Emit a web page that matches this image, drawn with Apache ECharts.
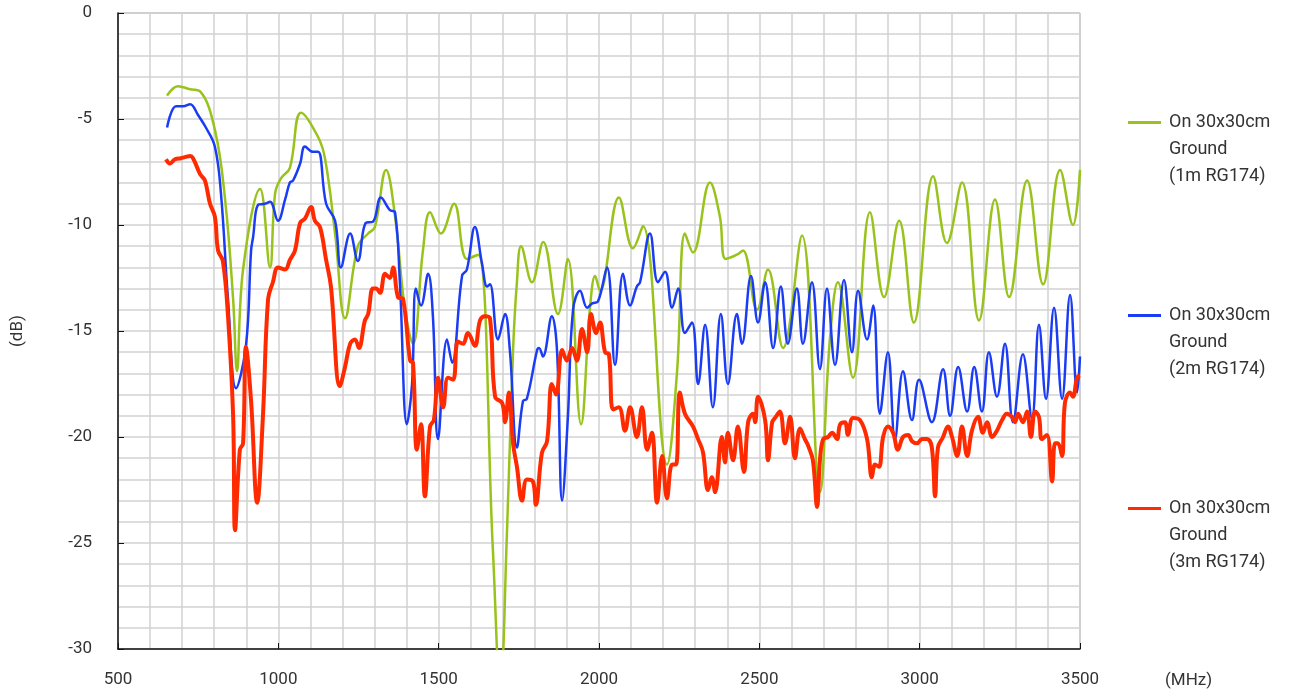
<!DOCTYPE html>
<html>
<head>
<meta charset="utf-8">
<script src="https://cdn.jsdelivr.net/npm/echarts@6/dist/echarts.min.js"></script>
<style>
  html, body { margin: 0; padding: 0; background: #fff; }
  #main { width: 1301px; height: 698px; }
</style>
</head>
<body>
<div id="main"></div>
<script>
// frequency (MHz), level (dB)
const green1m = [
  [653,-3.9],[687,-3.45],[725,-3.6],[756,-3.7],[802,-5.5],[834,-8.8],[859,-13.5],[871,-16.9],
  [890,-12.1],[943,-8.3],[974,-12.0],[990,-8.5],[1008,-7.8],[1036,-7.3],[1071,-4.7],[1124,-5.85],
  [1146,-6.9],[1177,-10.4],[1208,-14.4],[1248,-11.0],[1280,-10.4],[1301,-10.1],[1336,-7.4],[1364,-9.6],
  [1395,-14.0],[1420,-15.6],[1451,-11.2],[1473,-9.4],[1507,-10.4],[1548,-9.0],[1588,-11.6],[1623,-11.4],
  [1669,-25.3],[1692,-32],[1713,-24.5],[1732,-15.9],[1744,-12.7],[1757,-11.0],[1791,-12.7],[1826,-10.8],
  [1872,-14.2],[1903,-11.6],[1944,-19.4],[1972,-13.9],[1988,-12.4],[2003,-13.1],[2062,-8.7],[2106,-11.1],
  [2137,-10.05],[2212,-21.3],[2243,-17.0],[2268,-10.4],[2293,-11.3],[2346,-8.0],[2377,-9.6],[2395,-11.6],
  [2430,-11.4],[2449,-11.2],[2493,-14.0],[2527,-12.1],[2574,-15.8],[2633,-10.5],[2689,-22.6],[2720,-15.4],
  [2745,-12.7],[2792,-17.2],[2845,-9.4],[2889,-13.4],[2936,-9.8],[2982,-14.6],[3042,-7.7],[3085,-10.85],
  [3132,-8.0],[3185,-14.5],[3235,-8.8],[3279,-13.4],[3335,-7.9],[3385,-12.8],[3438,-7.4],[3478,-10.0],
  [3500,-7.4]
];

const blue2m = [
  [653,-5.4],[681,-4.4],[703,-4.4],[725,-4.3],[749,-4.8],[774,-5.4],[802,-6.3],[821,-8.5],
  [843,-13.5],[868,-17.7],[899,-15.7],[915,-11.2],[921,-10.6],[937,-9.05],[958,-9.0],[974,-8.9],
  [999,-9.8],[1021,-8.8],[1036,-8.0],[1046,-7.9],[1068,-7.1],[1083,-6.3],[1108,-6.55],[1124,-6.55],
  [1149,-9.0],[1177,-9.8],[1195,-12.0],[1224,-10.4],[1248,-11.7],[1273,-9.9],[1295,-9.85],[1320,-8.7],
  [1348,-9.3],[1364,-9.4],[1379,-12.7],[1401,-19.4],[1417,-17.5],[1429,-13.0],[1445,-13.8],[1467,-12.3],
  [1482,-14.3],[1498,-20.1],[1526,-15.4],[1542,-16.5],[1573,-12.4],[1588,-12.1],[1613,-10.1],[1635,-11.8],
  [1651,-12.9],[1660,-12.8],[1685,-15.4],[1707,-14.2],[1722,-15.9],[1744,-20.5],[1763,-18.3],[1775,-18.2],
  [1807,-15.9],[1813,-15.8],[1825,-16.2],[1853,-14.3],[1869,-15.9],[1885,-23.0],[1903,-19.05],[1919,-14.0],
  [1941,-13.1],[1963,-13.9],[1979,-13.7],[1997,-13.6],[2025,-12.0],[2050,-16.6],[2075,-12.3],[2097,-13.8],
  [2118,-12.9],[2128,-12.7],[2159,-10.4],[2184,-12.7],[2206,-12.2],[2228,-13.9],[2247,-13.0],[2268,-15.1],
  [2290,-14.6],[2309,-17.5],[2331,-14.7],[2355,-18.6],[2380,-14.2],[2402,-17.5],[2430,-14.2],[2446,-15.6],
  [2474,-12.4],[2496,-14.6],[2518,-12.7],[2543,-15.8],[2567,-12.9],[2589,-15.6],[2617,-13.0],[2636,-15.6],
  [2664,-12.7],[2689,-16.8],[2711,-13.0],[2736,-16.6],[2764,-12.6],[2789,-16.0],[2808,-13.1],[2836,-15.4],
  [2855,-13.8],[2876,-18.9],[2901,-16.0],[2923,-20.1],[2948,-16.9],[2976,-19.2],[2998,-17.3],[3038,-19.3],
  [3073,-16.8],[3095,-19.0],[3120,-16.7],[3148,-18.8],[3170,-16.7],[3194,-18.8],[3216,-16.0],[3241,-18.1],
  [3266,-15.6],[3291,-19.3],[3322,-16.1],[3350,-19.1],[3372,-14.7],[3394,-18.2],[3419,-13.9],[3444,-18.2],
  [3469,-13.3],[3491,-17.9],[3500,-16.2]
];

const red3m = [
  [650,-6.9],[662,-7.1],[678,-6.9],[696,-6.85],[709,-6.8],[725,-6.75],[734,-6.85],[756,-7.6],
  [771,-7.9],[787,-9.0],[802,-9.6],[812,-11.2],[827,-11.7],[843,-14.3],[859,-19.0],[865,-24.4],
  [880,-20.6],[890,-20.3],[899,-15.75],[915,-18.3],[934,-23.1],[952,-19.0],[968,-13.5],[983,-12.7],
  [999,-12.0],[1021,-12.1],[1036,-11.65],[1052,-11.2],[1068,-9.9],[1083,-9.7],[1102,-9.15],[1114,-9.8],
  [1130,-10.1],[1149,-11.65],[1164,-12.9],[1192,-17.6],[1208,-16.7],[1224,-15.6],[1239,-15.4],[1251,-15.8],
  [1270,-14.5],[1280,-14.2],[1295,-13.0],[1305,-13.0],[1317,-13.2],[1333,-12.3],[1348,-12.5],[1358,-12.0],
  [1373,-13.4],[1389,-13.5],[1411,-16.4],[1420,-16.5],[1432,-20.6],[1445,-19.4],[1457,-22.8],[1473,-19.5],
  [1485,-19.2],[1498,-17.2],[1514,-18.6],[1529,-17.2],[1545,-17.3],[1560,-15.5],[1576,-15.6],[1591,-15.1],
  [1613,-15.7],[1629,-14.5],[1644,-14.3],[1660,-14.4],[1676,-18.1],[1698,-18.4],[1707,-19.3],[1719,-17.9],
  [1732,-20.3],[1744,-21.4],[1760,-23.0],[1775,-22.0],[1794,-22.1],[1803,-23.2],[1822,-20.75],[1838,-20.2],
  [1853,-17.5],[1866,-18.0],[1885,-15.9],[1900,-16.4],[1916,-15.8],[1931,-16.4],[1947,-14.9],[1963,-16.0],
  [1975,-14.2],[1991,-15.1],[2003,-14.6],[2019,-16.0],[2031,-16.1],[2044,-18.7],[2062,-18.6],[2081,-19.7],
  [2097,-18.6],[2118,-20.0],[2134,-18.6],[2150,-20.6],[2165,-19.8],[2181,-23.1],[2197,-20.9],[2212,-22.9],
  [2228,-21.3],[2240,-21.3],[2252,-17.9],[2268,-18.9],[2293,-19.5],[2309,-20.1],[2324,-20.7],[2340,-22.5],
  [2352,-21.9],[2362,-22.6],[2383,-20.0],[2393,-21.2],[2402,-19.8],[2418,-21.1],[2433,-19.5],[2452,-21.65],
  [2465,-19.3],[2480,-18.9],[2487,-19.3],[2496,-18.1],[2518,-19.2],[2527,-21.1],[2540,-19.3],[2549,-19.1],
  [2564,-18.8],[2580,-20.3],[2596,-19.05],[2611,-21.0],[2627,-19.6],[2642,-20.1],[2652,-20.4],[2667,-21.1],
  [2680,-23.3],[2689,-21.1],[2699,-20.1],[2714,-20.0],[2727,-19.8],[2742,-20.1],[2752,-19.4],[2767,-19.3],
  [2776,-19.9],[2792,-19.1],[2814,-19.2],[2836,-20.1],[2851,-21.9],[2861,-21.3],[2873,-21.4],[2886,-20.0],
  [2901,-19.5],[2917,-19.8],[2932,-20.6],[2948,-20.0],[2964,-19.9],[2976,-20.2],[2992,-20.3],[3007,-20.1],
  [3023,-20.1],[3038,-20.5],[3048,-22.8],[3057,-20.5],[3073,-20.0],[3088,-19.5],[3101,-20.0],[3117,-20.9],
  [3132,-19.5],[3148,-20.9],[3163,-19.7],[3182,-19.05],[3197,-19.8],[3210,-19.3],[3226,-20.0],[3241,-19.7],
  [3257,-19.2],[3272,-18.9],[3288,-19.05],[3297,-19.3],[3307,-18.9],[3322,-19.3],[3335,-18.8],[3347,-20.0],
  [3360,-18.8],[3372,-19.05],[3381,-20.1],[3397,-19.9],[3413,-22.1],[3422,-20.3],[3431,-20.3],[3444,-20.9],
  [3453,-18.4],[3469,-17.9],[3478,-18.1],[3491,-17.2],[3500,-17.1]
];

const seriesNames = [
  'On 30x30cm\nGround\n(1m RG174)',
  'On 30x30cm\nGround\n(2m RG174)',
  'On 30x30cm\nGround\n(3m RG174)'
];
const seriesColors = ['#99c31c', '#1a3cf5', '#ff2a00'];
const seriesWidths = [2.5, 2.5, 4];
const seriesData = [green1m, blue2m, red3m];

const font = 'Roboto, "DejaVu Sans", sans-serif';
const textColor = '#333';

let myChart = echarts.init(document.getElementById('main'));

myChart.setOption({
  animation: false,
  textStyle: { fontFamily: font },
  grid: {
    left: 118, top: 13, right: 221, bottom: 49,
    outerBoundsMode: 'none',
    containLabel: false,
    show: true, borderColor: '#999', borderWidth: 1
  },
  legend: {
    orient: 'vertical',
    left: 1123,
    top: 50,
    itemWidth: 33,
    itemHeight: 3,
    itemGap: 58,
    icon: 'rect',
    formatter: name => '\n\n' + name,
    textStyle: {
      fontFamily: font, fontSize: 18, color: textColor,
      lineHeight: 27, padding: [0, 0, 0, 3]
    },
    data: seriesNames
  },
  xAxis: {
    type: 'value',
    min: 500, max: 3500, interval: 500,
    name: '(MHz)',
    nameLocation: 'end',
    nameGap: 85,
    nameTextStyle: { fontSize: 17, color: textColor, verticalAlign: 'top', padding: [23, 0, 0, 0] },
    axisLine: { show: true, onZero: false, lineStyle: { color: '#111', width: 1.5 } },
    axisTick: { show: true, inside: true, length: 6, lineStyle: { color: '#111' } },
    axisLabel: { fontSize: 17, color: textColor, margin: 22, formatter: v => String(v) },
    splitLine: { show: true, lineStyle: { color: '#d2d2d2', width: 1.5 } },
    minorTick: { show: false, splitNumber: 5 },
    minorSplitLine: { show: true, lineStyle: { color: '#d2d2d2', width: 1.5 } }
  },
  yAxis: {
    type: 'value',
    min: -30, max: 0, interval: 5,
    name: '(dB)',
    nameLocation: 'middle',
    nameGap: 92,
    nameRotate: 90,
    nameTextStyle: { fontSize: 17, color: textColor },
    axisLine: { show: true, onZero: false, lineStyle: { color: '#111', width: 1.5 } },
    axisTick: { show: true, inside: true, length: 6, lineStyle: { color: '#111' } },
    axisLabel: { fontSize: 17, color: textColor, margin: 26 },
    splitLine: { show: true, lineStyle: { color: '#d2d2d2', width: 1.5 } },
    minorTick: { show: false, splitNumber: 5 },
    minorSplitLine: { show: true, lineStyle: { color: '#d2d2d2', width: 1.5 } }
  },
  series: seriesData.map((d, i) => ({
    name: seriesNames[i],
    type: 'line',
    data: d,
    smooth: 0.4,
    showSymbol: false,
    clip: true,
    color: seriesColors[i],
    lineStyle: { color: seriesColors[i], width: seriesWidths[i] },
    z: 3 + i
  }))
});

window.onresize = function () {
  myChart.resize();
};
</script>
</body>
</html>
